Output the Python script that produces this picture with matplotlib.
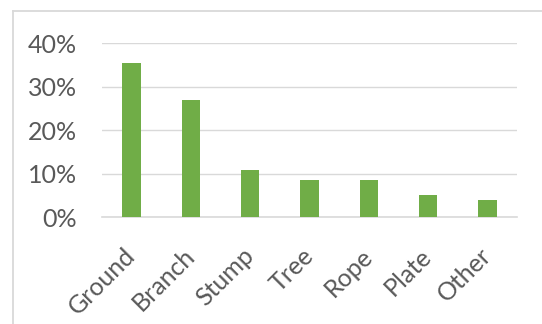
import matplotlib
matplotlib.use("Agg")
import matplotlib.pyplot as plt
from matplotlib.ticker import PercentFormatter
from matplotlib.lines import Line2D

# data
categories = ["Ground", "Branch", "Stump", "Tree", "Rope", "Plate", "Other"]
shares = [0.355, 0.269, 0.108, 0.085, 0.085, 0.051, 0.039]
yticks = [0.0, 0.1, 0.2, 0.3, 0.4]

green = "#70AD47"
grid_grey = "#D9D9D9"
text_grey = "#595959"

plt.rcParams["font.family"] = ["Lato", "DejaVu Sans"]

fig = plt.figure(figsize=(5.42, 3.24), dpi=100)
ax = fig.add_axes([0.188, 0.329, 0.766, 0.538])

x = range(len(categories))
ax.bar(x, shares, width=0.31, color=green, zorder=3)

ax.set_xlim(-0.5, len(categories) - 0.5)
ax.set_ylim(0, 0.4)
ax.set_yticks(yticks)
ax.yaxis.set_major_formatter(PercentFormatter(1.0, decimals=0))
ax.set_xticks(list(x))
ax.set_xticklabels(categories, rotation=45, ha="right", va="center", rotation_mode="anchor")

ax.grid(axis="y", color=grid_grey, linewidth=1.0, zorder=0)
for s in ["top", "right", "left"]:
    ax.spines[s].set_visible(False)
ax.spines["bottom"].set_color(grid_grey)
ax.spines["bottom"].set_linewidth(1.2)

ax.tick_params(axis="y", length=0, pad=18, labelsize=18, labelcolor=text_grey)
ax.tick_params(axis="x", length=0, pad=25, labelsize=18, labelcolor=text_grey)

# chart area border (goes off the right and bottom edge)
x0 = 12.5 / 542
y0 = 1 - 10.5 / 324
fig.add_artist(Line2D([x0, x0], [0, y0], transform=fig.transFigure, color=grid_grey, linewidth=1.3))
fig.add_artist(Line2D([x0, 1], [y0, y0], transform=fig.transFigure, color=grid_grey, linewidth=1.3))

fig.savefig("out.png", dpi=100)
